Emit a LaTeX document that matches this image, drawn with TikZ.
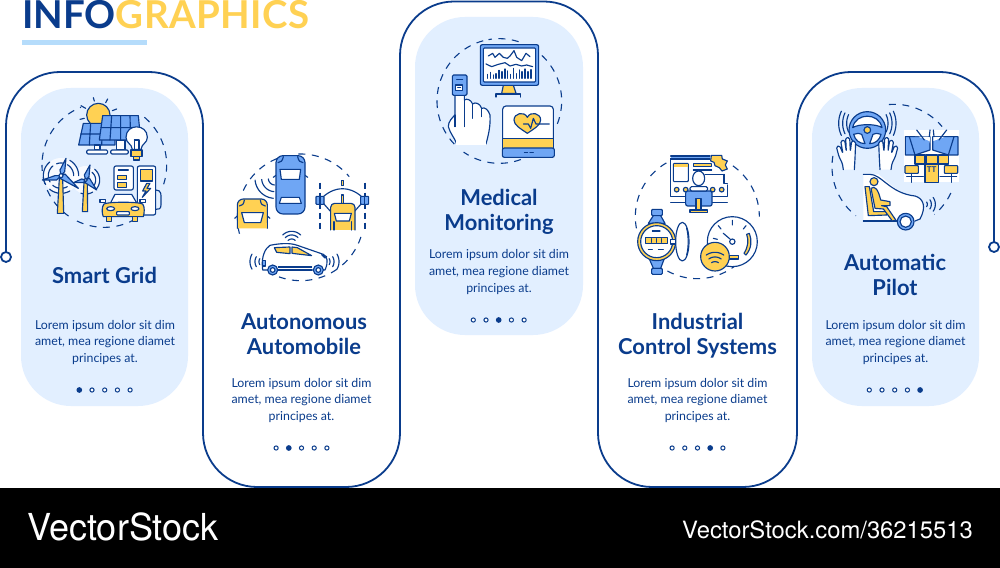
\documentclass[tikz,border=0pt]{standalone}
\usepackage{fontspec}
\setmainfont{Lato}
\newfontfamily\heros{TeX Gyre Heros}
\definecolor{navy}{HTML}{0A3C8C}
\definecolor{blu}{HTML}{6FA6F4}
\definecolor{yel}{HTML}{FFD153}
\definecolor{pale}{HTML}{E2EFFF}
\definecolor{bar}{HTML}{B5DCFB}
\tikzset{
  ic/.style={draw=navy,line width=1.15bp,line join=round,line cap=round},
  icb/.style={ic,fill=blu},
  icy/.style={ic,fill=yel},
  icw/.style={ic,fill=white},
  dsh/.style={navy,line width=1.1bp,dash pattern=on 7bp off 6.5bp},
  panelfill/.style={fill=pale,rounded corners=50bp},
  outl/.style={draw=navy,line width=1.8bp},
  ttl/.style={text=navy,font=\fontsize{22}{22}\selectfont\bfseries,anchor=base},
  bod/.style={text=navy,font=\fontsize{12.4}{12.4}\selectfont,anchor=base},
  dotoff/.style={draw=navy,fill=white,line width=1bp,circle,inner sep=0pt,minimum size=4.2bp},
  doton/.style={draw=navy,fill=navy,line width=1bp,circle,inner sep=0pt,minimum size=4.6bp},
  icon/.style={scale=0.33333},
}
% dashed arc: cx cy r a b
\newcommand\darc[5]{\draw[dsh] plot[domain=#4:#5,samples=50] ({#1+#3*cos(\x)},{#2+#3*sin(\x)});}
% signal arcs: cx cy a b radii
\newcommand\sarcs[5]{\foreach \rr in {#5}{\draw[ic] plot[domain=#3:#4,samples=20] ({#1+\rr*cos(\x)},{#2+\rr*sin(\x)});}}
% three body lines
\newcommand\bodytext[3]{%
  \node[bod] (#3a) at (#1,#2) {Lorem ipsum dolor sit dim};
  \node[bod] (#3b) at (#1,#2+16.8) {amet, mea regione diamet};
  \node[bod] (#3c) at (#1,#2+33.6) {principes at.};}
\newcommand\dotsrow[4]{% cx y active name
  \foreach \i in {1,2,3,4,5}{
    \ifnum\i=#3\relax\node[doton] (#4d\i) at ({#1+(\i-3)*12.7},#2) {};
    \else\node[dotoff] (#4d\i) at ({#1+(\i-3)*12.7},#2) {};\fi}}
\begin{document}
\begin{tikzpicture}[x=1bp,y=-1bp]
\useasboundingbox (0,0) rectangle (1000,568);
\fill[white] (0,0) rectangle (1000,568);
% header
\node[anchor=base west,inner sep=0pt,font=\fontsize{38.6}{38.6}\selectfont\bfseries] (head) at (22,28.5) {\textcolor{navy}{INFO}\textcolor{yel}{\addfontfeatures{LetterSpace=1.2}GRAPHICS}};
\fill[bar] (22,40) rectangle (147,45);
% panels
\fill[panelfill] (21,88) rectangle (188,406);
\fill[panelfill] (415,17) rectangle (583,335);
\fill[panelfill] (812,88) rectangle (979,406);
\draw[outl,rounded corners=54bp] (6,252)--(6,72)--(203,72)--(203,487)--(400,487)--(400,1.5)--(598,1.5)--(598,487)--(797,487)--(797,72)--(994,72)--(994,242);
\node[draw=navy,fill=white,line width=1.8bp,circle,inner sep=0pt,minimum size=10bp] (endl) at (6,257) {};
\node[draw=navy,fill=white,line width=1.8bp,circle,inner sep=0pt,minimum size=10bp] (endr) at (994,247) {};
% texts
\node[ttl] (t1) at (104.5,284) {Smart Grid};
\bodytext{105}{329}{p}
\dotsrow{104.7}{390}{1}{p}
\node[ttl] (t2a) at (304,329.5) {Autonomous};
\node[ttl] (t2b) at (304,354.5) {Automobile};
\bodytext{301.5}{387}{q}
\dotsrow{301.5}{448}{2}{q}
\node[ttl] (t3a) at (499,205.5) {Medical};
\node[ttl] (t3b) at (499,230.5) {Monitoring};
\bodytext{499}{259}{r}
\dotsrow{498.7}{320}{3}{r}
\node[ttl] (t4a) at (697.5,329.5) {Industrial};
\node[ttl] (t4b) at (697.5,354.5) {Control Systems};
\bodytext{697.5}{387}{s}
\dotsrow{697.5}{448}{4}{s}
\node[ttl] (t5a) at (895,270.5) {Automatic};
\node[ttl] (t5b) at (895,295.5) {Pilot};
\bodytext{895.5}{329}{u}
\dotsrow{894.7}{390}{5}{u}
% ---------- icon 1
\begin{scope}[icon]
\darc{313}{495}{187}{125}{180}
\darc{313}{495}{187}{185}{248}
\darc{313}{495}{187}{-50}{18}
\darc{313}{495}{187}{60}{122}
\foreach \a/\b/\c/\d in {280/293/283/303,323/297/317/308,350/327/337/332,243/317/257/325,240/358/253/355}{\draw[ic] (\a,\b)--(\c,\d);}
\draw[icy] (295,345) circle (35);
\draw[icb] (250,370)--(345,370)--(345,435)--(236,435)--cycle;
\draw[ic] (242,402)--(345,402) (272,370)--(268,435) (308,370)--(305,435);
\draw[icw] (283,435) rectangle (300,450);
\draw[icw,rounded corners=1.3] (260,450) rectangle (323,462);
\draw[icw] (350,420) rectangle (375,450);
\draw[icw,rounded corners=1.3] (332,450) rectangle (385,462);
\draw[icb] (308,347)--(415,347)--(422,420)--(298,420)--cycle;
\draw[ic] (303,383)--(418,383) (335,347)--(330,420) (362,347)--(362,420) (390,347)--(392,420);
\draw[icw] (397,448) .. controls (395,430) and (378,430) .. (378,412) .. controls (378,370) and (442,370) .. (442,412) .. controls (442,430) and (425,430) .. (423,448) -- cycle;
\draw[ic] (403,448)--(403,420) (417,448)--(417,420) (403,420)--(417,420);
\draw[icy] (393,450) rectangle (426,470);
\draw[icy] (401,470) rectangle (418,480);
% turbines
\fill[white,opacity=.75] (183,527) circle (53);
\fill[white,opacity=.75] (257,540) circle (42);
\sarcs{183}{527}{150}{230}{38,53}
\sarcs{183}{527}{-60}{0}{38,53}
\sarcs{183}{527}{60}{130}{38,53}
\sarcs{183}{527}{250}{290}{38}
\sarcs{257}{540}{-50}{40}{30,42}
\sarcs{257}{540}{60}{110}{42}
\draw[icy] (178,535)--(188,535)--(191,640)--(172,640)--cycle;
\draw[icy] (252,548)--(262,548)--(263,635)--(247,635)--cycle;
\draw[icb] (183,527)--(180,510)--(198,475)--(194,515)--cycle;
\draw[icb] (183,527)--(165,527)--(127,540)--(170,540)--cycle;
\draw[icb] (183,527)--(195,522)--(235,565)--(180,535)--cycle;
\draw[icb] (257,540)--(253,525)--(270,495)--(267,530)--cycle;
\draw[icb] (257,540)--(245,537)--(220,548)--(250,548)--cycle;
\draw[icb] (257,540)--(268,534)--(290,570)--(255,548)--cycle;
\draw[icw] (183,527) circle (6);
\draw[icw] (257,540) circle (5);
% charger
\draw[icw,rounded corners=2] (342,498) rectangle (400,570);
\draw[ic] (355,510)--(385,510);
\draw[icy] (352,526) rectangle (380,538);
\draw[icy] (352,547) rectangle (380,562);
\draw[ic] (467,570) .. controls (485,570) and (483,585) .. (483,595) -- (483,615) .. controls (483,628) and (475,628) .. (467,628);
\draw[icw,rounded corners=2] (412,498) rectangle (467,645);
\draw[icy] (421,509) rectangle (457,543);
\draw[icy] (440,550)--(428,573)--(438,573)--(427,592)--(452,565)--(441,565)--(450,550)--cycle;
% car
\draw[icw] (330,612)--(345,583)--(395,583)--(412,612)--cycle;
\draw[icy] (312,612) .. controls (325,605) and (415,605) .. (428,612) .. controls (435,620) and (433,640) .. (430,650) -- (310,650) .. controls (305,640) and (305,620) .. (312,612)--cycle;
\draw[icw] (300,598) rectangle (316,608);
\draw[icw] (420,598) rectangle (437,608);
\draw[icw] (332,626) ellipse (12 and 6);
\draw[icw] (405,626) ellipse (12 and 6);
\draw[icw,rounded corners=.7] (350,635) rectangle (388,645);
\draw[icy] (320,650) rectangle (335,665);
\draw[icy] (397,650) rectangle (413,665);
\end{scope}
% ---------- icon 2
\begin{scope}[shift={(210,140)},icon]
\darc{272}{232}{190}{-92}{-40}
\darc{272}{232}{190}{-155}{-112}
\darc{272}{232}{190}{165}{195}
\darc{272}{232}{190}{55}{110}
\darc{272}{232}{190}{18}{50}
\sarcs{195}{115}{95}{175}{20,40,60}
% blue car
\draw[ic] (190,112)--(198,106) (293,112)--(285,106);
\draw[icb,rounded corners=7] (198,47) rectangle (285,222);
\draw[ic] (204,68) .. controls (212,68) and (218,62) .. (220,50);
\draw[ic] (279,68) .. controls (271,68) and (265,62) .. (263,50);
\draw[icw] (210,88)--(272,88)--(268,118)--(214,118)--cycle;
\draw[icw] (214,172)--(268,172)--(274,190)--(208,190)--cycle;
% yellow car
\draw[icy,rounded corners=6] (82,265) -- (82,177) -- (172,177) -- (172,265);
\fill[yel] (84,250) rectangle (170,265);
\draw[icw] (95,218)--(160,218)--(152,248)--(103,248)--cycle;
\draw[ic] (88,198) .. controls (96,198) and (102,192) .. (103,180);
\draw[ic] (166,198) .. controls (158,198) and (152,192) .. (151,180);
\draw[ic] (74,235)--(82,228) (180,235)--(172,228);
% right scene
\draw[navy,line width=1.1bp,dash pattern=on 6bp off 4bp] (330,128)--(330,270);
\draw[navy,line width=1.1bp,dash pattern=on 6bp off 4bp] (465,128)--(465,270);
\draw[icy] (394,121) rectangle (401,137);
\draw[ic] (330,180) .. controls (370,135) and (425,135) .. (465,180);
\draw[icy] (394,165) rectangle (401,190);
\draw[ic] (340,190)--(365,218) (455,190)--(430,218);
\draw[icy,rounded corners=4] (362,270)--(362,190)--(435,190)--(435,270);
\draw[icw] (373,220)--(424,220)--(418,243)--(379,243)--cycle;
\draw[ic] (372,270)--(372,245) (425,270)--(425,245);
\draw[icb,rounded corners=.7] (318,169) rectangle (342,193);
\draw[icb,rounded corners=.7] (452,169) rectangle (476,193);
\draw[ic] (330,169)--(330,193) (464,169)--(464,193);
% side car
\draw[icw] (157,378) .. controls (155,350) and (165,325) .. (180,316) .. controls (210,310) and (240,308) .. (262,316) -- (340,343) .. controls (352,350) and (356,365) .. (345,390) -- (158,390)--cycle;
\draw[icy] (193,323)--(240,321)--(240,341)--(200,337)--cycle;
\draw[icy] (246,321)--(262,323)--(305,347)--(246,340)--cycle;
\draw[icy] (335,344)--(350,350)--(345,354)--cycle;
\draw[ic] (205,381)--(305,381) (205,390)--(305,390);
\draw[icb] (157,362) rectangle (167,378);
\draw[icb] (188,390) circle (15);\draw[ic,fill=white] (188,390) circle (7);
\draw[icb] (325,390) circle (15);\draw[ic,fill=white] (325,390) circle (7);
\sarcs{165}{365}{150}{210}{18,30,45}
\sarcs{342}{365}{-30}{30}{18,30,45}
\sarcs{245}{312}{225}{315}{15,27,38}
\end{scope}
% ---------- icon 3
\begin{scope}[shift={(420,20)},icon]
\darc{238}{243}{187}{-72}{-100}
\darc{238}{243}{187}{-105}{-180}
\darc{238}{243}{187}{-180}{-225}
\darc{238}{243}{187}{45}{125}
\darc{238}{243}{187}{-47}{23}
\draw[icy] (250,196)--(280,196)--(288,220)--(245,220)--cycle;
\draw[ic] (228,231)--(228,222)--(302,222)--(302,231);
\draw[icb,rounded corners=2] (181,74) rectangle (356,196);
\draw[icw,rounded corners=1] (190,84) rectangle (347,186);
\draw[ic] (205,108)--(218,100)--(225,112)--(238,100)--(250,112)--(262,115)--(270,108)--(282,92)--(290,112)--(305,122)--(318,100)--(330,110);
\draw[ic] (198,132)--(215,140)--(235,133)--(255,128)--(270,138)--(288,133)--(305,138)--(320,135)--(338,140);
\foreach \x/\h in {203/12,212/18,220/10,228/14,237/24,246/20,255/28,263/22,272/12,281/30,290/14,298/25,306/20,315/28,324/20,333/26}{\draw[ic] (\x,175)--(\x,175-\h);}
% hand
\draw[icw] (105,228)--(105,285) .. controls (95,295) and (85,305) .. (85,320) .. controls (90,340) and (105,355) .. (110,372) -- (198,372) .. controls (205,345) and (212,320) .. (210,285) .. controls (205,270) and (195,260) .. (185,265) .. controls (180,250) and (165,245) .. (158,252) .. controls (152,238) and (140,235) .. (133,240) -- (133,228);
\fill[white] (108,360) rectangle (198,374);
\draw[ic] (133,240)--(133,320) (158,252)--(158,295) (185,265)--(185,290) (105,285)--(105,320);
\draw[icb,rounded corners=1.3] (97,165) rectangle (141,226);
\draw[icw] (107,195) rectangle (128,211);
\draw[ic] (110,178)--(128,178);
\draw[ic] (113,202)--(122,202);
% device
\draw[icw,rounded corners=3.3] (248,258) rectangle (400,385);
\draw[icy] (248,355)--(400,355)--(400,385)--(248,385)--cycle;
\draw[icb,rounded corners=2] (247,384) rectangle (403,412);
\draw[ic] (313,398)--(323,398) (330,398)--(340,398);
\draw[icy] (322,340) .. controls (300,325) and (282,315) .. (282,300) .. controls (282,280) and (312,272) .. (322,292) .. controls (332,272) and (362,280) .. (362,300) .. controls (362,315) and (344,325) .. (322,340)--cycle;
\draw[ic] (310,312)--(325,312)--(332,325)--(340,295)--(348,312)--(388,312);
\end{scope}
% ---------- icon 4
\begin{scope}[shift={(620,145)},icon]
\darc{232}{215}{186}{-120}{-143}
\darc{232}{215}{186}{-147}{-195}
\darc{232}{215}{186}{-55}{0}
\darc{232}{215}{186}{50}{120}
% screen
\draw[ic] (152,40)--(152,155)--(197,155) (276,155)--(322,155)--(322,120);
\draw[ic] (312,88)--(312,115)--(322,115);
\fill[blu] (152,33) rectangle (270,42);
\draw[ic] (152,42)--(270,42);\draw[ic] (152,33)--(270,33);
\draw[icy] (274,31)--(305,31)--(307,42)--(322,48)--(316,60)--(322,72)--(306,78)--(298,68)--(285,62)--(282,52)--(272,48)--cycle;
\draw[icw,rounded corners=1] (160,55) rectangle (205,110);
\fill[yel] (162,57) rectangle (203,65);
\draw[ic] (220,57) rectangle (275,65);
\fill[yel] (221,58) rectangle (274,64);
\draw[ic] (220,75)--(275,75) (255,88)--(312,88);
\draw[icw] (236,100) ellipse (18 and 22);
\foreach \p in {170,197,278,305}{\draw[icy] (\p,134) circle (7);}
\draw[ic] (152,172)--(197,172) (276,172)--(322,172);
\draw[icb,rounded corners=2] (197,138) rectangle (276,183);
\draw[ic,fill=white,rounded corners=1.5] (210,125)--(263,125)--(263,138)--(210,138)--cycle;
\draw[icy] (228,160) rectangle (243,195);
\draw[icy] (210,195) rectangle (263,203);
% meter
\draw[icb,rounded corners=1] (95,193) rectangle (127,212);
\draw[icb] (100,212)--(122,212)--(135,235)--(85,235)--cycle;
\draw[icb] (85,335)--(135,335)--(122,370)--(100,370)--cycle;
\draw[icb,rounded corners=1] (95,370) rectangle (127,388);
\draw[icy] (110,290) circle (57);
\draw[icw] (110,290) circle (48);
\draw[icy] (77,278) rectangle (143,295);
\draw[ic] (95,281)--(95,292) (110,281)--(110,292) (125,281)--(125,292);
\draw[ic] (97,258)--(120,258) (85,313)--(97,313) (115,313)--(130,313);
\draw[icw] (152,283) rectangle (167,297);
\draw[icw] (187,290) ellipse (20 and 58);
\draw[ic] (200,250) .. controls (206,270) and (206,310) .. (200,330);
% gauge
\draw[icw] (337,290) circle (75);
\draw[icy] (388,265) .. controls (396,285) and (395,310) .. (378,330) -- (372,325) .. controls (385,305) and (386,285) .. (380,268)--cycle;
\draw[ic] (337,226)--(337,240) (295,242)--(303,252) (378,242)--(370,252) (280,280)--(292,283);
\draw[ic] (310,265)--(330,282);
\draw[icw] (337,290) circle (8);
\draw[icy] (322,332) rectangle (355,342);
\draw[icy] (285,335) circle (43);
\sarcs{285}{368}{235}{305}{18,32,46}
\end{scope}
% ---------- icon 5
\begin{scope}[shift={(815,95)},icon]
\darc{238}{215}{187}{-95}{-40}
\darc{238}{215}{187}{-170}{-178}
\darc{238}{215}{187}{178}{128}
\darc{238}{215}{187}{25}{50}
\sarcs{157}{85}{155}{205}{62,74,86}
\sarcs{157}{85}{-25}{25}{62,74,86}
\draw[icb] (157,105) circle (55);
\draw[icw] (113,98) .. controls (122,52) and (192,52) .. (201,98) .. controls (185,86) and (130,86) .. (113,98)--cycle;
\draw[icw] (116,118) .. controls (125,114) and (135,114) .. (140,118) -- (150,146) .. controls (133,146) and (120,135) .. (116,118)--cycle;
\draw[icw] (198,118) .. controls (189,114) and (179,114) .. (174,118) -- (164,146) .. controls (181,146) and (194,135) .. (198,118)--cycle;
\draw[icy] (157,105) circle (10);
% hands
\draw[icw,rounded corners=1.5] (85,224)--(82,205)--(72,185)--(64,155)--(74,152)--(84,176)--(77,138)--(89,135)--(94,170)--(92,128)--(104,128)--(106,170)--(110,137)--(122,140)--(120,190)--(118,224);
\draw[icw,rounded corners=1.5] (228,224)--(231,205)--(241,185)--(249,155)--(239,152)--(229,176)--(236,138)--(224,135)--(219,170)--(221,128)--(209,128)--(207,170)--(203,137)--(191,140)--(193,190)--(195,224);
% cockpit
\fill[white] (268,105) rectangle (432,262);
\draw[icb] (271,125)--(345,125)--(345,165)--(300,180)--(271,180)--cycle;
\draw[icb] (353,125)--(429,125)--(429,180)--(400,180)--(353,165)--cycle;
\fill[white] (300,125)--(340,125)--(345,145)--(345,126)--cycle;
\fill[white] (312,126)--(343,126)--(343,138)--cycle;
\fill[white] (388,126)--(355,126)--(355,138)--cycle;
\draw[ic] (305,105)--(328,135) (395,105)--(372,135) (345,105)--(343,125) (355,105)--(357,125) (283,125)--(300,180) (417,125)--(400,180);
\draw[icy] (300,180) rectangle (330,207);
\draw[icy] (333,180) rectangle (367,207);
\draw[icy] (370,180) rectangle (400,207);
\draw[icy] (330,207)--(370,207)--(370,262)--(330,262)--cycle;
\draw[icy,rounded corners=.7] (270,212) rectangle (310,235);
\draw[icy,rounded corners=.7] (388,212) rectangle (428,235);
\draw[ic] (290,235)--(290,262) (410,235)--(410,262) (275,245)--(325,245) (375,245)--(425,245);
\node[font=\fontsize{8}{8}\selectfont\bfseries,text=navy,inner sep=0pt] (tt) at (350,224) {TT};
% side car
\fill[white] (145,238) -- (190,238) .. controls (225,265) and (245,295) .. (300,303) .. controls (325,310) and (335,335) .. (315,372) -- (300,378)--(145,378)--cycle;
\draw[ic] (145,238)--(165,238) .. controls (200,238) and (225,295) .. (300,303) .. controls (325,310) and (335,335) .. (315,372) --(300,378);
\draw[ic] (145,378)--(245,378);
\draw[icy] (150,275)--(163,275)--(176,350)--(215,350)--(215,360)--(160,362)--cycle;
\draw[icy] (177,260) circle (12);
\draw[icy] (168,280) .. controls (180,270) and (190,285) .. (197,315) -- (225,320)--(225,332)--(200,332)--(215,335)--(243,376)--(232,378)--(205,342)--(180,340)--cycle;
\draw[icb] (272,380) circle (25);
\draw[icw] (272,380) circle (17);
\sarcs{325}{328}{-35}{35}{12,24,36}
\end{scope}
% banner
\fill[black] (0,488) rectangle (1000,568);
\node[anchor=base west,inner sep=0pt,text=white] (vs1) at (27,540) {\heros\fontsize{37.3}{37.3}\selectfont\addfontfeatures{FakeStretch=0.97}VectorStock};
\node[anchor=base west,inner sep=0pt,text=white] (vs2) at (682,538) {\heros\fontsize{23.9}{23.9}\selectfont VectorStock.com/36215513};
\end{tikzpicture}
\end{document}
